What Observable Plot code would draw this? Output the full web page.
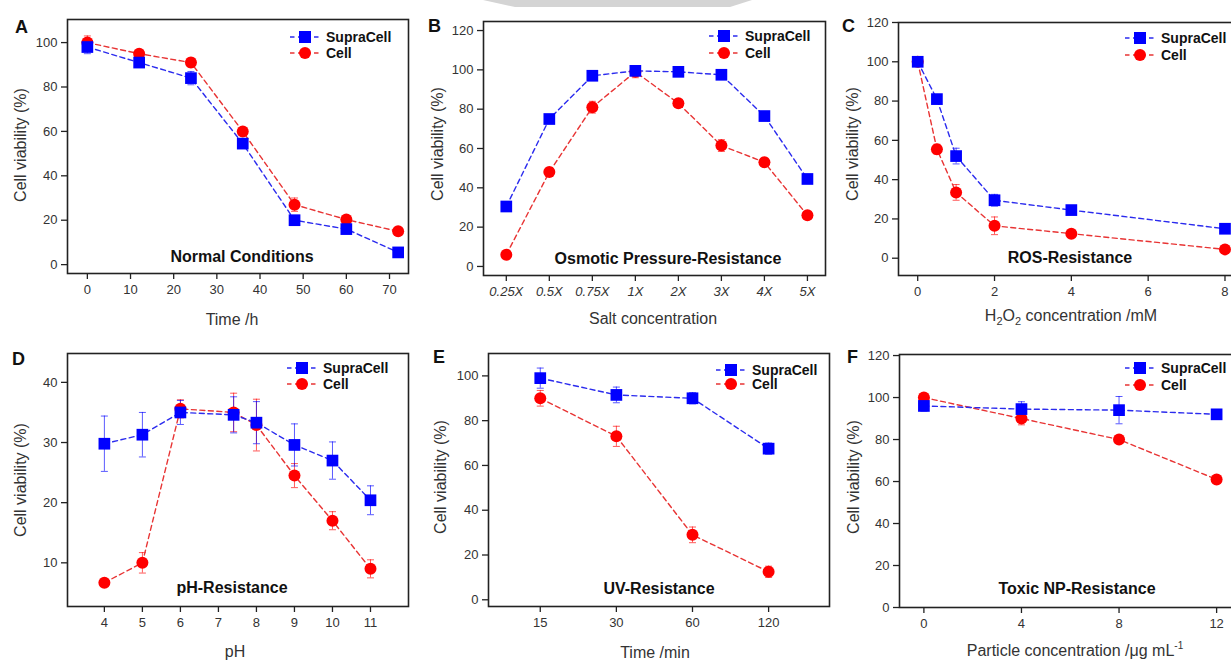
<!DOCTYPE html>
<html><head><meta charset="utf-8">
<script src="https://cdn.jsdelivr.net/npm/d3@7"></script>
<script src="https://cdn.jsdelivr.net/npm/@observablehq/plot@0.6"></script>
<style>
html,body{margin:0;padding:0;background:#fff;overflow:hidden;}
#root{position:relative;width:1231px;height:660px;overflow:hidden;background:#fff;}
.panel{position:absolute;}
.panel svg{max-width:none !important;overflow:visible;}
#wm{position:absolute;left:0;top:0;}
</style></head><body><div id="root"></div>
<script>
const FONT = "'Liberation Sans', Arial, sans-serif";
const BLUE = "#0000ff", RED = "#ff0000", BLUE_L = "#2b2bee", RED_L = "#e83434";

// ---- Panel A: Normal conditions
const aTime = [0, 12, 24, 36, 48, 60, 72];
const aSupra = [98, 91, 84, 54.5, 20, 16, 5.5];
const aSupraErr = [3, 2, 3, 2, 2, 2, 1];
const aCell = [100, 95, 91, 60, 27, 20.3, 15];
const aCellErr = [3, 1.5, 2, 1.5, 3, 1.5, 1];
const aXTicks = [0, 10, 20, 30, 40, 50, 60, 70];

// ---- Panel B: Osmotic pressure
const bLabels = ["0.25X", "0.5X", "0.75X", "1X", "2X", "3X", "4X", "5X"];
const bSupra = [30.5, 75, 97, 99.5, 99, 97.5, 76.5, 44.5];
const bSupraErr = [2.5, 2, 2, 1.5, 1, 1.5, 1, 1];
const bCell = [6, 48, 81, 99, 83, 61.5, 53, 26];
const bCellErr = [1, 2, 3, 3, 1.5, 3, 2, 1];

// ---- Panel C: ROS
const cConc = [0, 0.5, 1, 2, 4, 8];
const cSupra = [100, 81, 52, 29.5, 24.5, 15];
const cSupraErr = [2, 1.5, 4, 3, 1, 1];
const cCell = [100, 55.5, 33.5, 16.5, 12.5, 4.5];
const cCellErr = [2, 2.5, 4, 4.5, 1, 1];
const cXTicks = [0, 2, 4, 6, 8];

// ---- Panel D: pH
const dPH = [4, 5, 6, 7.4, 8, 9, 10, 11];
const dSupra = [29.8, 31.3, 35, 34.6, 33.3, 29.6, 27, 20.4];
const dSupraErr = [4.6, 3.7, 2, 3, 3.5, 3.5, 3.1, 2.4];
const dCell = [6.7, 10, 35.6, 35, 32.9, 24.5, 17, 9];
const dCellErr = [0.3, 1.7, 1.5, 3.2, 4.3, 2, 1.5, 1.5];
const dXTicks = [4, 5, 6, 7, 8, 9, 10, 11];

// ---- Panel E: UV
const eLabels = ["15", "30", "60", "120"];
const eSupra = [99, 91.5, 90, 67.5];
const eSupraErr = [4.5, 3.5, 2.5, 2.5];
const eCell = [90, 73, 29, 12.5];
const eCellErr = [3.5, 4.5, 3.5, 2.5];

// ---- Panel F: Toxic NP
const fConc = [0, 4, 8, 12];
const fSupra = [96, 94.5, 94, 92];
const fSupraErr = [2.5, 3.5, 6.5, 1];
const fCell = [100, 90, 80, 61];
const fCellErr = [1, 3, 1.5, 1];
const fXTicks = [0, 4, 8, 12];

const yTicks100 = [0, 20, 40, 60, 80, 100];
const yTicks120 = [0, 20, 40, 60, 80, 100, 120];
const yTicksD = [10, 20, 30, 40];
const seriesNames = ["SupraCell", "Cell"];

const cap = {draw(ctx, size) { const r = Math.sqrt(size / Math.PI); ctx.moveTo(-r, 0); ctx.lineTo(r, 0); }};
const root = document.getElementById("root");

// faint watermark shape at the top of the page
d3.select(root).append("svg").attr("id", "wm").attr("width", 1231).attr("height", 20)
  .append("polygon").attr("points", "483,0 752,0 730,7 515,7").attr("fill", "#d4d4d4");

function panel(c) {
  const rows = (xs, ys, es, s) => xs.map((x, i) => ({x, y: ys[i], e: es[i], s}));
  const sup = rows(c.x, c.supra, c.supraErr, seriesNames[0]);
  const cel = rows(c.x, c.cell, c.cellErr, seriesNames[1]);
  const err = (d, col) => [
    Plot.ruleX(d, {x: "x", y1: v => v.y - v.e, y2: v => v.y + v.e, stroke: col, strokeWidth: 1, strokeOpacity: 0.65}),
    Plot.dot(d, {x: "x", y: v => v.y + v.e, symbol: cap, r: 3.5, stroke: col, strokeWidth: 1, strokeOpacity: 0.65}),
    Plot.dot(d, {x: "x", y: v => v.y - v.e, symbol: cap, r: 3.5, stroke: col, strokeWidth: 1, strokeOpacity: 0.65})
  ];
  const plot = Plot.plot({
    width: c.width, height: c.height,
    marginTop: c.mt, marginRight: c.mr, marginBottom: c.mb, marginLeft: c.ml,
    style: {fontFamily: FONT, fontSize: "13px", color: "#333", background: "transparent", overflow: "visible"},
    x: {type: "linear", domain: c.xDomain},
    y: {type: "linear", domain: c.yDomain},
    marks: [
      Plot.axisX({ticks: c.xTicks, tickFormat: c.xFormat, tickSize: 6, tickPadding: 5, label: null,
        fontStyle: c.xItalic ? "italic" : "normal", stroke: "#222", strokeWidth: 1.3, fontSize: 13}),
      Plot.axisY({ticks: c.yTicks, tickFormat: d => String(d), tickSize: 6, tickPadding: 4, label: null,
        stroke: "#222", strokeWidth: 1.3, fontSize: 13}),
      Plot.frame({stroke: "#222", strokeWidth: 1.6}),
      ...err(cel, RED), ...err(sup, BLUE),
      Plot.line(cel, {x: "x", y: "y", stroke: RED_L, strokeWidth: 1.4, strokeDasharray: "5,3.5"}),
      Plot.line(sup, {x: "x", y: "y", stroke: BLUE_L, strokeWidth: 1.4, strokeDasharray: "5,3.5"}),
      Plot.dot(cel, {x: "x", y: "y", r: 6, fill: RED}),
      Plot.dot(sup, {x: "x", y: "y", symbol: "square", r: 6.6, fill: BLUE})
    ]
  });
  const div = document.createElement("div");
  div.className = "panel";
  div.style.left = c.left + "px"; div.style.top = c.top + "px";
  div.style.width = c.width + "px"; div.style.height = c.height + "px";
  div.appendChild(plot);
  root.appendChild(div);

  const svg = d3.select(plot);
  const g = svg.append("g").attr("font-family", FONT).attr("text-anchor", "start");
  const X = v => v - c.left, Y = v => v - c.top;
  // panel letter
  g.append("text").attr("x", X(c.letter[1])).attr("y", Y(c.letter[2])).attr("text-anchor", "start")
    .attr("font-size", 18).attr("font-weight", "bold").attr("fill", "#111").text(c.letter[0]);
  // inner title
  g.append("text").attr("x", X(c.title[1])).attr("y", Y(c.title[2])).attr("dy", "0.35em")
    .attr("text-anchor", "middle").attr("font-size", 16).attr("font-weight", "bold").attr("fill", "#111").text(c.title[0]);
  // x label
  const xl = g.append("text").attr("x", X(c.xlabelPos[0])).attr("y", Y(c.xlabelPos[1])).attr("dy", "0.35em")
    .attr("text-anchor", "middle").attr("font-size", 16).attr("fill", "#333");
  c.xlabel.forEach(p => {
    const t = xl.append("tspan").text(p.t);
    if (p.sub) t.attr("font-size", 11).attr("dy", 4);
    if (p.sup) t.attr("font-size", 10).attr("dy", -7);
    if (p.after === "sub") t.attr("dy", -4);
  });
  // y label
  g.append("text").attr("transform", `translate(${X(c.ylabelPos[0])},${Y(c.ylabelPos[1])}) rotate(-90)`)
    .attr("dy", "0.35em").attr("text-anchor", "middle").attr("font-size", 16).attr("fill", "#333")
    .text("Cell viability (%)");
  // legend
  const lx = X(c.legend[0]);
  [[BLUE, "square", c.legend[1]], [RED, "circle", c.legend[2]]].forEach(([col, sym, yy], i) => {
    const y = Y(yy);
    g.append("line").attr("x1", lx - 36).attr("x2", lx - 7).attr("y1", y).attr("y2", y)
      .attr("stroke", i ? RED_L : BLUE_L).attr("stroke-width", 1.5).attr("stroke-dasharray", "4.5,3.5");
    if (sym === "square") g.append("rect").attr("x", lx - 27).attr("y", y - 6).attr("width", 12).attr("height", 12).attr("fill", col);
    else g.append("circle").attr("cx", lx - 21).attr("cy", y).attr("r", 6).attr("fill", col);
    g.append("text").attr("x", lx).attr("y", y).attr("dy", "0.35em").attr("text-anchor", "start").attr("font-size", 14)
      .attr("font-weight", "bold").attr("fill", "#111").text(seriesNames[i]);
  });
}

panel({left: 0, top: 0, width: 410, height: 330, mt: 19, mr: 2, mb: 57, ml: 67,
  x: aTime, supra: aSupra, supraErr: aSupraErr, cell: aCell, cellErr: aCellErr,
  xDomain: [-4.6, 74.4], yDomain: [-4, 110.4], xTicks: aXTicks, xFormat: d => String(d), yTicks: yTicks100,
  letter: ["A", 15, 33], title: ["Normal Conditions", 242, 256],
  xlabel: [{t: "Time /h"}], xlabelPos: [232, 319], ylabelPos: [20, 145], legend: [326, 37, 53]});

panel({left: 410, top: 0, width: 420, height: 330, mt: 21, mr: 5, mb: 55, ml: 73,
  x: bLabels.map((_, i) => i), supra: bSupra, supraErr: bSupraErr, cell: bCell, cellErr: bCellErr,
  xDomain: [-0.53, 7.42], yDomain: [-4.6, 124.6], xTicks: bLabels.map((_, i) => i), xFormat: i => bLabels[i], xItalic: true,
  yTicks: yTicks120,
  letter: ["B", 428, 32], title: ["Osmotic Pressure-Resistance", 668, 258],
  xlabel: [{t: "Salt concentration"}], xlabelPos: [653, 318], ylabelPos: [437, 144], legend: [745, 36, 53]});

panel({left: 830, top: 0, width: 420, height: 330, mt: 22, mr: 9, mb: 55, ml: 68,
  x: cConc, supra: cSupra, supraErr: cSupraErr, cell: cCell, cellErr: cCellErr,
  xDomain: [-0.5, 8.43], yDomain: [-8.8, 120], xTicks: cXTicks, xFormat: d => String(d), yTicks: yTicks120,
  letter: ["C", 842, 32], title: ["ROS-Resistance", 1070, 257],
  xlabel: [{t: "H"}, {t: "2", sub: true}, {t: "O", after: "sub"}, {t: "2", sub: true}, {t: " concentration /mM", after: "sub"}],
  xlabelPos: [1071, 315], ylabelPos: [852, 144], legend: [1161, 38, 55]});

panel({left: 0, top: 330, width: 410, height: 330, mt: 23, mr: 2, mb: 54, ml: 67,
  x: dPH, supra: dSupra, supraErr: dSupraErr, cell: dCell, cellErr: dCellErr,
  xDomain: [3.03, 12.0], yDomain: [2.74, 44.8], xTicks: dXTicks, xFormat: d => String(d), yTicks: yTicksD,
  letter: ["D", 12, 365], title: ["pH-Resistance", 232, 587],
  xlabel: [{t: "pH"}], xlabelPos: [235, 651], ylabelPos: [20, 480], legend: [323, 368, 384]});

panel({left: 410, top: 330, width: 425, height: 330, mt: 23, mr: 6, mb: 54, ml: 78,
  x: eLabels.map((_, i) => i), supra: eSupra, supraErr: eSupraErr, cell: eCell, cellErr: eCellErr,
  xDomain: [-0.68, 3.8], yDomain: [-3, 110], xTicks: eLabels.map((_, i) => i), xFormat: i => eLabels[i], yTicks: yTicks100,
  letter: ["E", 433, 363], title: ["UV-Resistance", 659, 588],
  xlabel: [{t: "Time /min"}], xlabelPos: [655, 652], ylabelPos: [440, 477], legend: [752, 370, 384]});

panel({left: 835, top: 330, width: 415, height: 330, mt: 24, mr: 9, mb: 53, ml: 64,
  x: fConc, supra: fSupra, supraErr: fSupraErr, cell: fCell, cellErr: fCellErr,
  xDomain: [-1, 13.02], yDomain: [0, 120.5], xTicks: fXTicks, xFormat: d => String(d), yTicks: yTicks120,
  letter: ["F", 847, 363], title: ["Toxic NP-Resistance", 1077, 588],
  xlabel: [{t: "Particle concentration /\u03bcg mL"}, {t: "-1", sup: true}],
  xlabelPos: [1075, 650], ylabelPos: [853, 477], legend: [1161, 368, 385]});
</script></body></html>
